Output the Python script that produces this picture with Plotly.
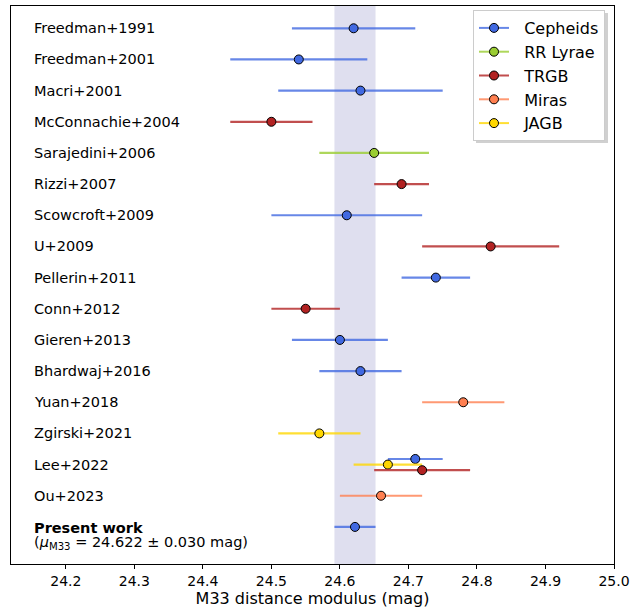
import plotly.graph_objects as go

# ---- data ----
studies = ["Freedman+1991", "Freedman+2001", "Macri+2001", "McConnachie+2004",
           "Sarajedini+2006", "Rizzi+2007", "Scowcroft+2009", "U+2009",
           "Pellerin+2011", "Conn+2012", "Gieren+2013", "Bhardwaj+2016",
           "Yuan+2018", "Zgirski+2021", "Lee+2022", "Ou+2023", "Present work"]

entry_study = ["Freedman+1991", "Freedman+2001", "Macri+2001", "McConnachie+2004",
               "Sarajedini+2006", "Rizzi+2007", "Scowcroft+2009", "U+2009",
               "Pellerin+2011", "Conn+2012", "Gieren+2013", "Bhardwaj+2016",
               "Yuan+2018", "Zgirski+2021", "Lee+2022", "Lee+2022", "Lee+2022",
               "Ou+2023", "Present work"]
entry_method = ["Cepheids", "Cepheids", "Cepheids", "TRGB",
                "RR Lyrae", "TRGB", "Cepheids", "TRGB",
                "Cepheids", "TRGB", "Cepheids", "Cepheids",
                "Miras", "JAGB", "Cepheids", "JAGB", "TRGB",
                "Miras", "Cepheids"]
entry_value = [24.62, 24.54, 24.63, 24.50,
               24.65, 24.69, 24.61, 24.82,
               24.74, 24.55, 24.60, 24.63,
               24.78, 24.57, 24.71, 24.67, 24.72,
               24.66, 24.622]
entry_error = [0.09, 0.10, 0.12, 0.06,
               0.08, 0.04, 0.11, 0.10,
               0.05, 0.05, 0.07, 0.06,
               0.06, 0.06, 0.04, 0.05, 0.07,
               0.06, 0.030]

methods = ["Cepheids", "RR Lyrae", "TRGB", "Miras", "JAGB"]
method_colors = ["#4169E1", "#9ACD32", "#B22222", "#FF7F50", "#FFD700"]

mu_present = 24.622
mu_present_err = 0.030
xticks = [24.2, 24.3, 24.4, 24.5, 24.6, 24.7, 24.8, 24.9, 25.0]

# ---- styling ----
FONT = "DejaVu Sans"
W, H = 644, 610
ML, MR, MT, MB = 11, 30, 6, 46
color_of = dict(zip(methods, method_colors))


def rgba(hex_color, a):
    h = hex_color.lstrip("#")
    r, g, b = int(h[0:2], 16), int(h[2:4], 16), int(h[4:6], 16)
    return f"rgba({r},{g},{b},{a})"


def px_to_paper(px, py):
    return (px - ML) / (W - ML - MR), 1 - (py - MT) / (H - MT - MB)


row_of = {s: i for i, s in enumerate(studies)}
counts = {}
for s in entry_study:
    counts[s] = counts.get(s, 0) + 1
seen = {}
entry_y = []
for s in entry_study:
    k = seen.get(s, 0)
    seen[s] = k + 1
    n = counts[s]
    entry_y.append(row_of[s] + (k - (n - 1) / 2) * 0.18)

fig = go.Figure()

# legend-only traces
for m in methods:
    c = color_of[m]
    fig.add_trace(go.Scatter(
        x=[None], y=[None], mode="lines+markers", name="\u00a0\u00a0" + m, legendgroup=m,
        line=dict(color=rgba(c, 0.8), width=2),
        marker=dict(color=c, size=9, line=dict(color="black", width=1)),
    ))

for s, m, v, e, y in zip(entry_study, entry_method, entry_value, entry_error, entry_y):
    c = color_of[m]
    fig.add_trace(go.Scatter(
        x=[v], y=[y], mode="markers", legendgroup=m, showlegend=False,
        marker=dict(color=c, size=9, line=dict(color="black", width=1)),
        error_x=dict(type="data", array=[e], color=rgba(c, 0.8), thickness=2.2, width=0),
        hoverinfo="skip",
    ))

# shaded band for present work
fig.add_shape(type="rect", xref="x", yref="paper",
              x0=mu_present - mu_present_err, x1=mu_present + mu_present_err,
              y0=0, y1=1, fillcolor="#dfdfef", line=dict(width=0), layer="below")

# legend drop shadow
sx0, sy0 = px_to_paper(476, 13)
sx1, sy1 = px_to_paper(608, 143)
fig.add_shape(type="rect", xref="paper", yref="paper",
              x0=sx0, x1=sx1, y0=sy1, y1=sy0,
              fillcolor="#d0d0d0", line=dict(width=0), layer="above")

# study labels
for s in studies[:-1]:
    fig.add_annotation(x=0.035, xref="paper", y=row_of[s], yref="y",
                       text=s, showarrow=False, xanchor="left", yanchor="middle",
                       font=dict(family=FONT, size=14.5, color="black"))
fig.add_annotation(x=0.035, xref="paper", y=row_of["Present work"] + 0.05, yref="y",
                   text="<b>Present work</b>", showarrow=False, xanchor="left",
                   yanchor="middle", font=dict(family=FONT, size=14.5, color="black"))
fig.add_annotation(x=0.035, xref="paper", y=row_of["Present work"] + 0.53, yref="y",
                   text=f"(<i>μ</i><sub>M33</sub> = {mu_present:.3f} ± {mu_present_err:.3f} mag)",
                   showarrow=False, xanchor="left", yanchor="middle",
                   font=dict(family=FONT, size=14.5, color="black"))

lx, ly = px_to_paper(473, 10)

fig.update_layout(
    width=W, height=H,
    margin=dict(l=ML, r=MR, t=MT, b=MB),
    paper_bgcolor="white", plot_bgcolor="white",
    font=dict(family=FONT, size=14, color="black"),
    showlegend=True,
    legend=dict(x=lx, y=ly, xanchor="left", yanchor="top",
                bgcolor="white", bordercolor="#cccccc", borderwidth=1,
                tracegroupgap=0,
                font=dict(family=FONT, size=16, color="black"),
                itemclick=False, itemdoubleclick=False),
    xaxis=dict(range=[24.12, 25.0], tickvals=xticks,
               ticktext=[f"{t:.1f}" for t in xticks],
               ticks="outside", ticklen=4, tickwidth=1, tickcolor="black",
               showline=True, linecolor="black", linewidth=1, mirror=True,
               showgrid=False, zeroline=False,
               tickfont=dict(family=FONT, size=14, color="black"),
               title=dict(text="M33 distance modulus (mag)", standoff=4,
                          font=dict(family=FONT, size=16, color="black"))),
    yaxis=dict(range=[17.19, -0.715], showticklabels=False, ticks="",
               showline=True, linecolor="black", linewidth=1, mirror=True,
               showgrid=False, zeroline=False),
)

fig.write_html("out.html", config={"displayModeBar": False},
               post_script="document.body.style.margin='0';document.body.style.padding='0';")
